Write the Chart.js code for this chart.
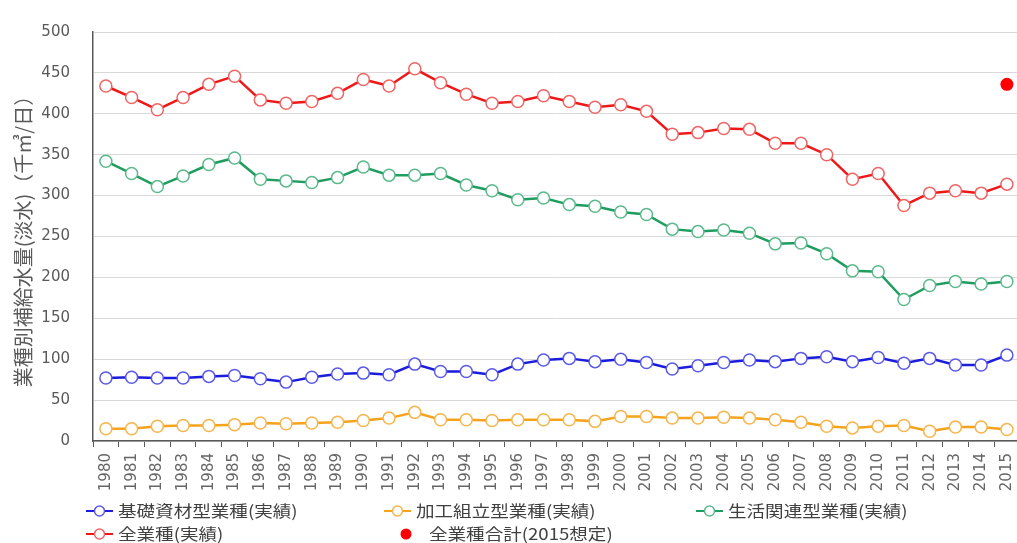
<!DOCTYPE html>
<html>
<head>
<meta charset="utf-8">
<script src="https://cdn.jsdelivr.net/npm/chart.js@4"></script>
<style>
  body { margin: 0; background: #fff; overflow: hidden; }
  #wrap { width: 1031px; height: 543px; position: relative; }
</style>
</head>
<body>
<div id="wrap"><canvas id="chart"></canvas></div>
<script>
// years on the x axis
const years = [];
for (let y = 1980; y <= 2015; y++) years.push(String(y));

// series values (千㎥/日)
const basicMaterials = [77, 78, 77, 77, 79, 80, 76, 72, 78, 82, 83, 81, 94, 85, 85, 81, 94, 99,
  101, 97, 100, 96, 88, 92, 96, 99, 97, 101, 103, 97, 102, 95, 101, 93, 93, 105];
const assembly = [15, 15, 18, 19, 19, 20, 22, 21, 22, 23, 25, 28, 35, 26, 26, 25, 26, 26,
  26, 24, 30, 30, 28, 28, 29, 28, 26, 23, 18, 16, 18, 19, 12, 17, 17, 14];
const livingRelated = [342, 327, 311, 324, 338, 346, 320, 318, 316, 322, 335, 325, 325, 327, 313, 306, 295, 297,
  289, 287, 280, 277, 259, 256, 258, 254, 241, 242, 229, 208, 207, 173, 190, 195, 192, 195];
const allIndustries = [434, 420, 405, 420, 436, 446, 417, 413, 415, 425, 442, 434, 455, 438, 424, 413, 415, 422,
  415, 408, 411, 403, 375, 377, 382, 381, 364, 364, 350, 320, 327, 288, 303, 306, 303, 314];
const forecast2015 = [null, null, null, null, null, null, null, null, null, null, null, null, null, null, null, null, null, null,
  null, null, null, null, null, null, null, null, null, null, null, null, null, null, null, null, null, 436];

const seriesNames = ["基礎資材型業種(実績)", "加工組立型業種(実績)", "生活関連型業種(実績)", "全業種(実績)", "全業種合計(2015想定)"];
const yTitle = "業種別補給水量(淡水)（千㎥/日）";

const lineSet = (label, data, line, marker) => ({
  label: label,
  data: data,
  borderColor: line,
  borderWidth: 2.5,
  pointBorderColor: marker,
  pointBackgroundColor: "#ffffff",
  pointRadius: 6,
  pointBorderWidth: 1.5,
  tension: 0,
});

// text in the original legend is drawn a bit wide
const wideText = (ctx, text, x, y) => {
  ctx.save();
  ctx.translate(x, y);
  ctx.scale(1.16, 1);
  ctx.fillText(text, 0, 0);
  ctx.restore();
};

// legend drawn in a fixed grid under the axis, like the original
const gridLegend = {
  id: "gridLegend",
  afterDraw(chart) {
    const ctx = chart.ctx;
    const slots = [[86, 511], [384, 511], [696, 511], [86, 534], [384, 534]];
    ctx.save();
    ctx.font = "16px 'Noto Sans CJK JP'";
    ctx.textBaseline = "middle";
    chart.data.datasets.forEach((ds, i) => {
      const [x, y] = slots[i];
      if (ds.showLine === false) {
        ctx.beginPath();
        ctx.arc(x + 22, y, 5.5, 0, Math.PI * 2);
        ctx.fillStyle = ds.pointBackgroundColor;
        ctx.fill();
        ctx.fillStyle = "#404040";
        wideText(ctx, ds.label, x + 45, y);
        return;
      }
      ctx.strokeStyle = ds.borderColor;
      ctx.lineWidth = 2;
      ctx.beginPath();
      ctx.moveTo(x, y);
      ctx.lineTo(x + 27, y);
      ctx.stroke();
      ctx.beginPath();
      ctx.arc(x + 13.5, y, 5, 0, Math.PI * 2);
      ctx.fillStyle = "#ffffff";
      ctx.fill();
      ctx.lineWidth = 1.5;
      ctx.strokeStyle = ds.pointBorderColor;
      ctx.stroke();
      ctx.fillStyle = "#404040";
      wideText(ctx, ds.label, x + 32, y);
    });
    ctx.restore();
  },
};

new Chart(document.getElementById("chart"), {
  type: "line",
  plugins: [gridLegend],
  data: {
    labels: years,
    datasets: [
      lineSet(seriesNames[0], basicMaterials, "#1c1cdc", "#5a5ae6"),
      lineSet(seriesNames[1], assembly, "#f5a31c", "#f6b54c"),
      lineSet(seriesNames[2], livingRelated, "#1f9d5f", "#5cb98c"),
      lineSet(seriesNames[3], allIndustries, "#ee1818", "#f06464"),
      {
        label: seriesNames[4],
        data: forecast2015,
        showLine: false,
        pointRadius: 6.5,
        pointBackgroundColor: "#ff0000",
        pointBorderColor: "#ff0000",
        pointBorderWidth: 0,
      },
    ],
  },
  options: {
    responsive: true,
    maintainAspectRatio: false,
    animation: false,
    layout: { padding: { top: 9, left: 0, right: 0, bottom: 0 } },
    plugins: {
      legend: { display: false },
      tooltip: { enabled: false },
    },
    scales: {
      x: {
        offset: true,
        afterFit: (s) => { s.height = 102; },
        grid: {
          offset: true,
          drawOnChartArea: false,
          tickLength: 6,
          color: "#595959",
        },
        border: { color: "#595959", width: 1.5 },
        ticks: {
          minRotation: 90,
          maxRotation: 90,
          autoSkip: false,
          padding: 6,
          color: "#666666",
          font: { family: "DejaVu Sans", size: 15 },
        },
      },
      y: {
        min: 0,
        max: 500,
        afterFit: (s) => { s.width = 93; },
        grid: { color: "#d9d9d9", drawTicks: false },
        border: { color: "#595959", width: 1.5 },
        ticks: {
          stepSize: 50,
          padding: 23,
          color: "#595959",
          font: { family: "DejaVu Sans", size: 15 },
        },
        title: {
          display: true,
          text: yTitle,
          color: "#595959",
          padding: { top: 11, bottom: 0 },
          font: { family: "Noto Sans CJK JP", size: 20 },
        },
      },
    },
  },
});
</script>
</body>
</html>
